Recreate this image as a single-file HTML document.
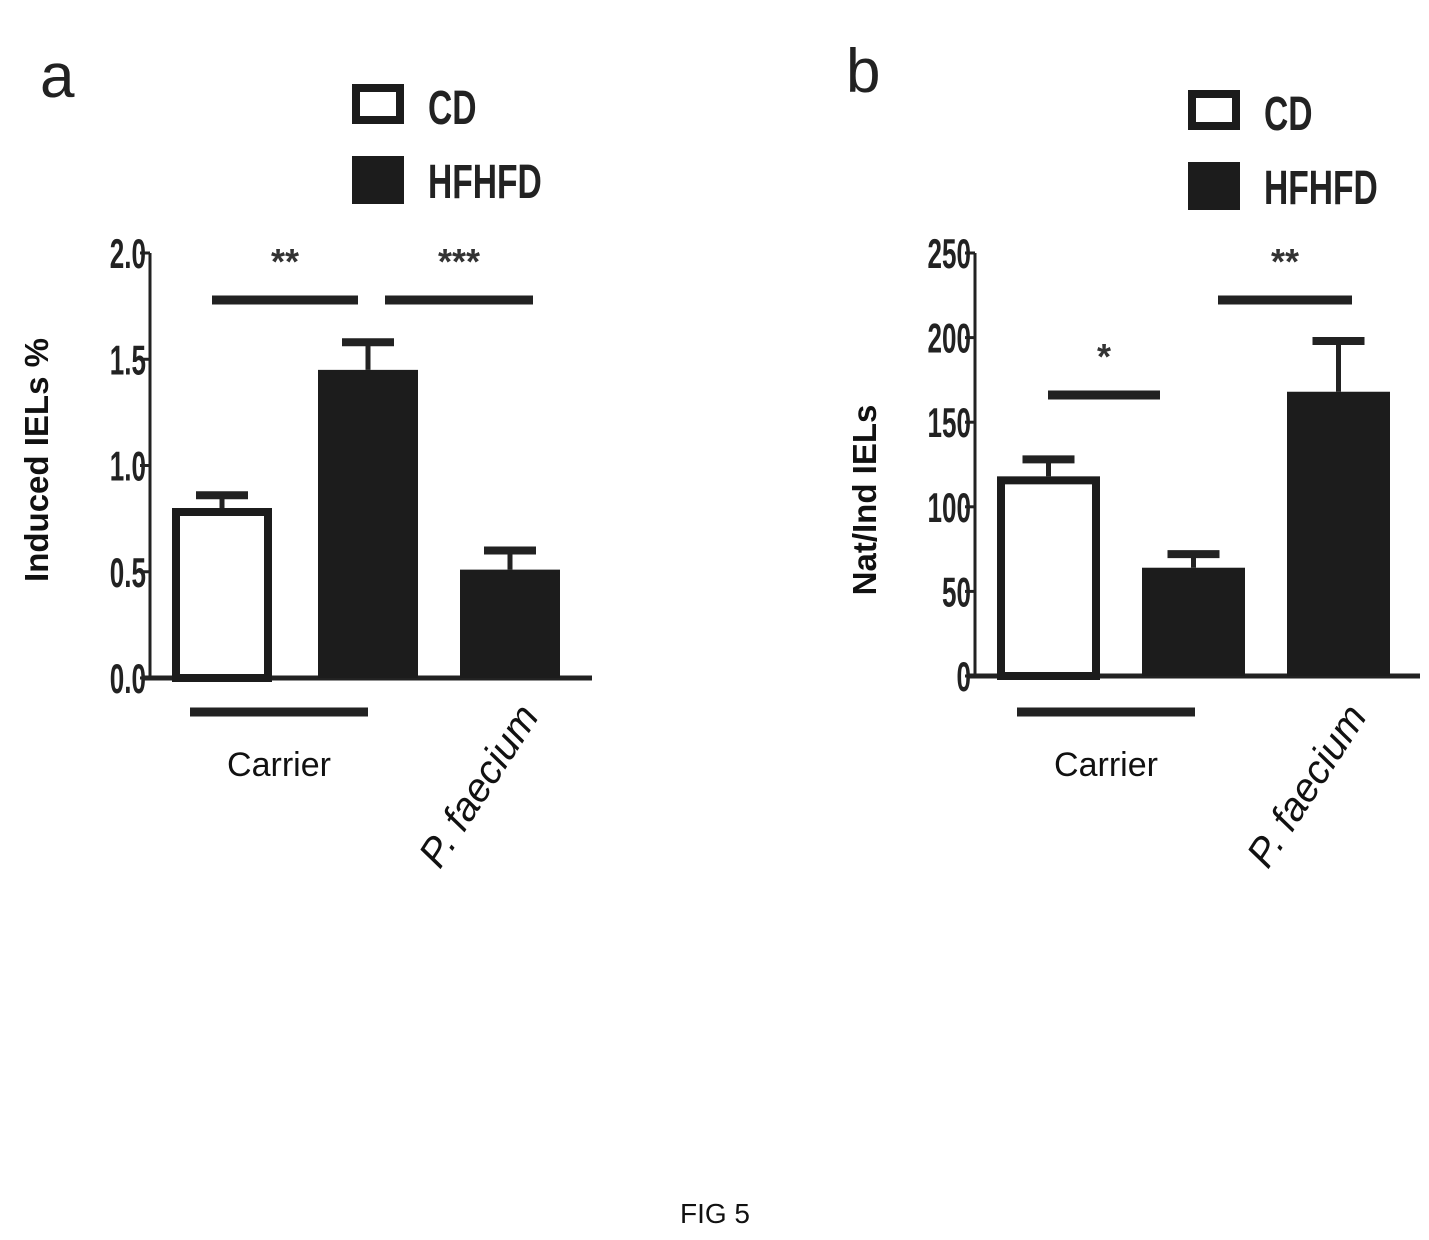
<!DOCTYPE html>
<html><head><meta charset="utf-8"><style>
body{margin:0;background:#fff;}
svg{display:block;font-family:"Liberation Sans",sans-serif;}
</style></head><body>
<svg id="fig" width="1429" height="1240" viewBox="0 0 1429 1240" xmlns="http://www.w3.org/2000/svg">
<rect width="1429" height="1240" fill="#fff"/>
<text x="40" y="97" font-size="62" fill="#222">a</text>
<text x="846" y="92" font-size="62" fill="#222">b</text>
<text x="715" y="1223" font-size="28" text-anchor="middle" fill="#111">FIG 5</text>
<g id="ga"></g><g id="gb"></g>
</svg>
<script>
const groupsA=["Carrier","P. faecium"];
const seriesA=["CD","HFHFD","HFHFD"];
const valuesA=[0.80,1.45,0.51];
const errA=[0.06,0.13,0.09];
const ticksA=["0.0","0.5","1.0","1.5","2.0"];
const tickValsA=[0,0.5,1.0,1.5,2.0];
const valuesB=[118,64,168];
const errB=[10,8,30];
const ticksB=["0","50","100","150","200","250"];
const tickValsB=[0,50,100,150,200,250];
const NS="http://www.w3.org/2000/svg";
function mk(p,t,a,txt){const e=document.createElementNS(NS,t);for(const k in a)e.setAttribute(k,a[k]);if(txt!==undefined)e.textContent=txt;p.appendChild(e);return e;}
function panel(id,cfg){
 const g=document.getElementById(id);
 const y=v=>cfg.y0-(v-cfg.min)/(cfg.max-cfg.min)*(cfg.y0-cfg.y1);
 let e;
 e=mk(g,'line',{x1:cfg.ax,y1:cfg.y1,x2:cfg.ax,y2:cfg.y0+2,stroke:'#222','stroke-width':3});
 
 e=mk(g,'line',{x1:cfg.ax-8,y1:cfg.y0,x2:cfg.xe,y2:cfg.y0,stroke:'#222','stroke-width':5});
 
 cfg.tv.forEach((v,i)=>{
  e=mk(g,'line',{x1:cfg.ax-10,y1:y(v),x2:cfg.ax,y2:y(v),stroke:'#222','stroke-width':3});
  
  e=mk(g,'text',{x:0,y:0,'font-size':42,'font-weight':'bold','text-anchor':'end',fill:'#222',transform:`translate(${cfg.ax-4},${y(v)+15}) scale(0.62,1)`},cfg.tl[i]);
  
 });
 cfg.vals.forEach((v,i)=>{
  const x=cfg.bx[i],w=cfg.bw,top=y(v),et=y(v+cfg.err[i]);
  e=mk(g,'line',{x1:x+w/2,y1:top,x2:x+w/2,y2:et,stroke:'#222','stroke-width':5});
  
  e=mk(g,'line',{x1:x+w/2-26,y1:et,x2:x+w/2+26,y2:et,stroke:'#222','stroke-width':8});
  
  const open=i===0;
  e=mk(g,'rect',{x:open?x+4:x,y:open?top+4:top,width:open?w-8:w,height:cfg.y0-top-(open?4:0),fill:open?'#fff':'#1c1c1c',stroke:'#1c1c1c','stroke-width':open?8:0});
  
 });
 cfg.sig.forEach(s=>{
  e=mk(g,'line',{x1:s[0],y1:s[2],x2:s[1],y2:s[2],stroke:'#222','stroke-width':9});
  
  e=mk(g,'text',{x:(s[0]+s[1])/2,y:s[2]-26,'font-size':36,'font-weight':'bold','text-anchor':'middle',fill:'#333'},s[3]);
  
 });
 e=mk(g,'line',{x1:cfg.gl[0],y1:712,x2:cfg.gl[1],y2:712,stroke:'#222','stroke-width':9});
 
 e=mk(g,'text',{x:(cfg.gl[0]+cfg.gl[1])/2,y:776,'font-size':34,'text-anchor':'middle',fill:'#111'},groupsA[0]);
 
 e=mk(g,'text',{x:0,y:0,'font-size':40,'font-style':'italic','text-anchor':'end',fill:'#111',transform:`translate(${cfg.pf[0]},${cfg.pf[1]}) rotate(-57)`},groupsA[1]);
 
 e=mk(g,'text',{x:0,y:0,'font-size':33,'font-weight':'bold','text-anchor':'middle',fill:'#111',transform:`translate(${cfg.yt[0]},${cfg.yt[1]}) rotate(-90)`},cfg.title);
 
 const lx=cfg.lg[0],ly=cfg.lg[1];
 e=mk(g,'rect',{x:lx+4,y:ly+4,width:44,height:32,fill:'#fff',stroke:'#1c1c1c','stroke-width':8});
 
 e=mk(g,'text',{x:0,y:0,'font-size':48,'font-weight':'bold',fill:'#222',transform:`translate(${lx+76},${ly+40}) scale(0.7,1)`},seriesA[0]);
 
 e=mk(g,'rect',{x:lx,y:ly+72,width:52,height:48,fill:'#1c1c1c'});
 
 e=mk(g,'text',{x:0,y:0,'font-size':48,'font-weight':'bold',fill:'#222',transform:`translate(${lx+76},${ly+114}) scale(0.7,1)`},seriesA[1]);
 
}
panel('ga',{ax:150,xe:592,y0:678,y1:253,min:0,max:2,tv:tickValsA,tl:ticksA,vals:valuesA,err:errA,
 bx:[172,318,460],bw:100,sig:[[212,358,300,"**"],[385,533,300,"***"]],gl:[190,368],pf:[540,716],
 title:"Induced IELs %",yt:[48,460],lg:[352,84]});
panel('gb',{ax:975,xe:1420,y0:676,y1:253,min:0,max:250,tv:tickValsB,tl:ticksB,vals:valuesB,err:errB,
 bx:[997,1142,1287],bw:103,sig:[[1048,1160,395,"*"],[1218,1352,300,"**"]],gl:[1017,1195],pf:[1368,716],
 title:"Nat/Ind IELs",yt:[876,500],lg:[1188,90]});
</script>
</body></html>
